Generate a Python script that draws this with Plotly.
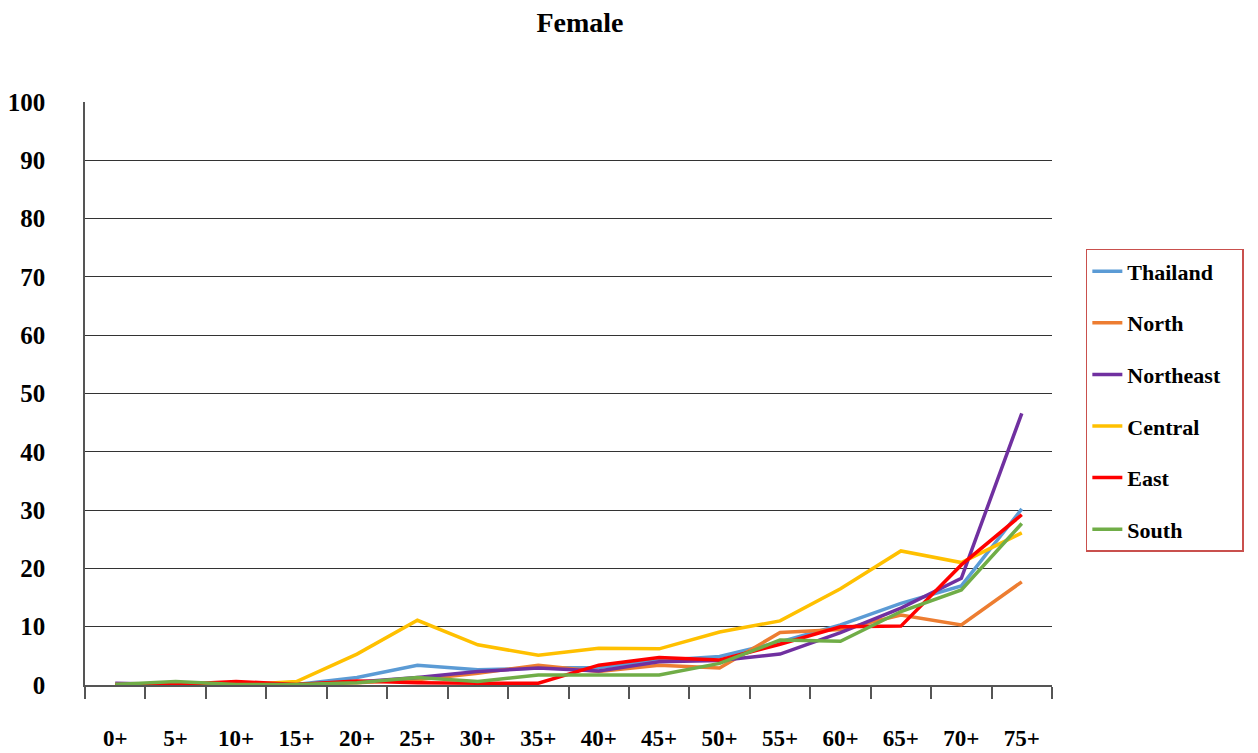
import plotly.graph_objects as go

age_groups = ["0+", "5+", "10+", "15+", "20+", "25+", "30+", "35+", "40+", "45+",
              "50+", "55+", "60+", "65+", "70+", "75+"]

thailand  = [0.1, 0.2, 0.0, 0.1, 1.3, 3.4, 2.6, 2.9, 3.0, 4.2, 4.9, 7.4, 10.3, 14.0, 17.0, 30.2]
north     = [0.1, 0.1, 0.0, 0.1, 0.4, 0.9, 2.0, 3.4, 2.3, 3.4, 2.9, 9.0, 9.5, 12.0, 10.3, 17.7]
northeast = [0.3, 0.1, 0.1, 0.1, 0.5, 1.3, 2.3, 2.9, 2.4, 4.0, 4.2, 5.3, 9.0, 13.2, 18.3, 46.6]
central   = [0.1, 0.1, 0.0, 0.6, 5.3, 11.1, 6.9, 5.1, 6.3, 6.2, 9.1, 11.0, 16.5, 23.0, 21.0, 26.1]
east      = [0.0, 0.1, 0.6, 0.1, 0.7, 0.4, 0.3, 0.3, 3.4, 4.7, 4.3, 7.0, 10.0, 10.1, 20.6, 29.2]
south     = [0.1, 0.6, 0.1, 0.1, 0.4, 1.3, 0.6, 1.7, 1.7, 1.7, 3.7, 7.7, 7.5, 12.6, 16.3, 27.7]

series = [
    ("Thailand", thailand, "#5B9BD5"),
    ("North", north, "#ED7D31"),
    ("Northeast", northeast, "#7030A0"),
    ("Central", central, "#FFC000"),
    ("East", east, "#FF0000"),
    ("South", south, "#70AD47"),
]

y_ticks = list(range(0, 101, 10))

font_family = "Liberation Serif, Times New Roman, serif"

fig = go.Figure()
for name, vals, color in series:
    fig.add_trace(go.Scatter(
        x=age_groups, y=vals, mode="lines",
        name=f"<b>{name}</b>" + "&nbsp;" * 3,
        legendgroup=name,
        line=dict(color=color, width=3.5),
    ))

# page body has an 8px margin, so the figure is sized to fit the visible window
fig.update_layout(
    width=1250, height=745,
    paper_bgcolor="white", plot_bgcolor="white",
    margin=dict(l=77, r=206, t=94, b=68, autoexpand=False),
    title=dict(text="<b>Female</b>", x=0.4576, xanchor="center", y=0.981, yanchor="middle",
               font=dict(family=font_family, size=28, color="black")),
    font=dict(family=font_family, color="black"),
    showlegend=True,
    legend=dict(
        x=1.035, xanchor="left", y=0.748, yanchor="top",
        bordercolor="#C9504D", borderwidth=1.5, bgcolor="white",
        font=dict(family=font_family, size=22, color="black"),
        tracegroupgap=20,
        itemwidth=30,
    ),
)

fig.update_xaxes(
    type="category", range=[-0.5, 15.5], automargin=False,
    showline=True, linecolor="#555", linewidth=1.5,
    ticks="outside", tickson="boundaries", ticklen=12, tickcolor="#555", tickwidth=1.5,
    ticklabelstandoff=32,
    tickfont=dict(family=font_family, size=23, color="black"),
    tickprefix="<b>", ticksuffix="</b>",
    showgrid=False, zeroline=False,
)

fig.update_yaxes(
    range=[0, 100], tickvals=y_ticks, automargin=False,
    ticktext=[f"<b>{v}</b>" for v in y_ticks],
    showline=True, linecolor="#555", linewidth=1.5,
    showgrid=True, gridcolor="#333", gridwidth=1,
    ticks="", ticklabelstandoff=33,
    tickfont=dict(family=font_family, size=25, color="black"),
    zeroline=False,
)

fig.write_html("out.html")
